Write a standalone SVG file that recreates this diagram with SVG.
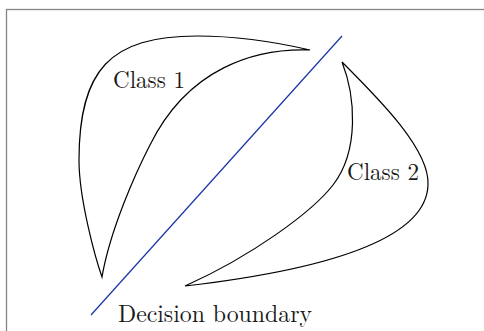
<svg xmlns="http://www.w3.org/2000/svg" width="484" height="331" viewBox="0 0 484 331">
<style>
.shape{fill:none;stroke:#000;stroke-width:1.2;stroke-linejoin:miter}
.lbl{font-family:"Latin Modern Roman","Liberation Serif","DejaVu Serif",serif;font-size:24px;fill:#1a1a1a}
</style>
<rect x="6.5" y="9.5" width="520" height="400" fill="#fff" stroke="#858585" stroke-width="1.3"/>
<g id="class1">
<path class="shape" d="M102,277 C96,260 79,200 79,160 C79,70 110,36 197,36 C240,36 280,43 310,50 C255,48 188,68 150,145 C136,172 110,230 102,277 Z"/>
<text class="lbl" x="113" y="88" textLength="72" lengthAdjust="spacingAndGlyphs">Class 1</text>
</g>
<g id="class2">
<path class="shape" d="M342,62 C355,95 360,150 333,185 C312,212 252,256 185,286 C280,275 426,250 428,185 C430,150 380,100 342,62 Z"/>
<text class="lbl" x="347" y="180" textLength="72" lengthAdjust="spacingAndGlyphs">Class 2</text>
</g>
<g id="boundary">
<line x1="91" y1="315" x2="342" y2="36" stroke="#1a33a6" stroke-width="1.2"/>
<text class="lbl" x="118" y="321.5" textLength="194" lengthAdjust="spacingAndGlyphs">Decision boundary</text>
</g>
</svg>
